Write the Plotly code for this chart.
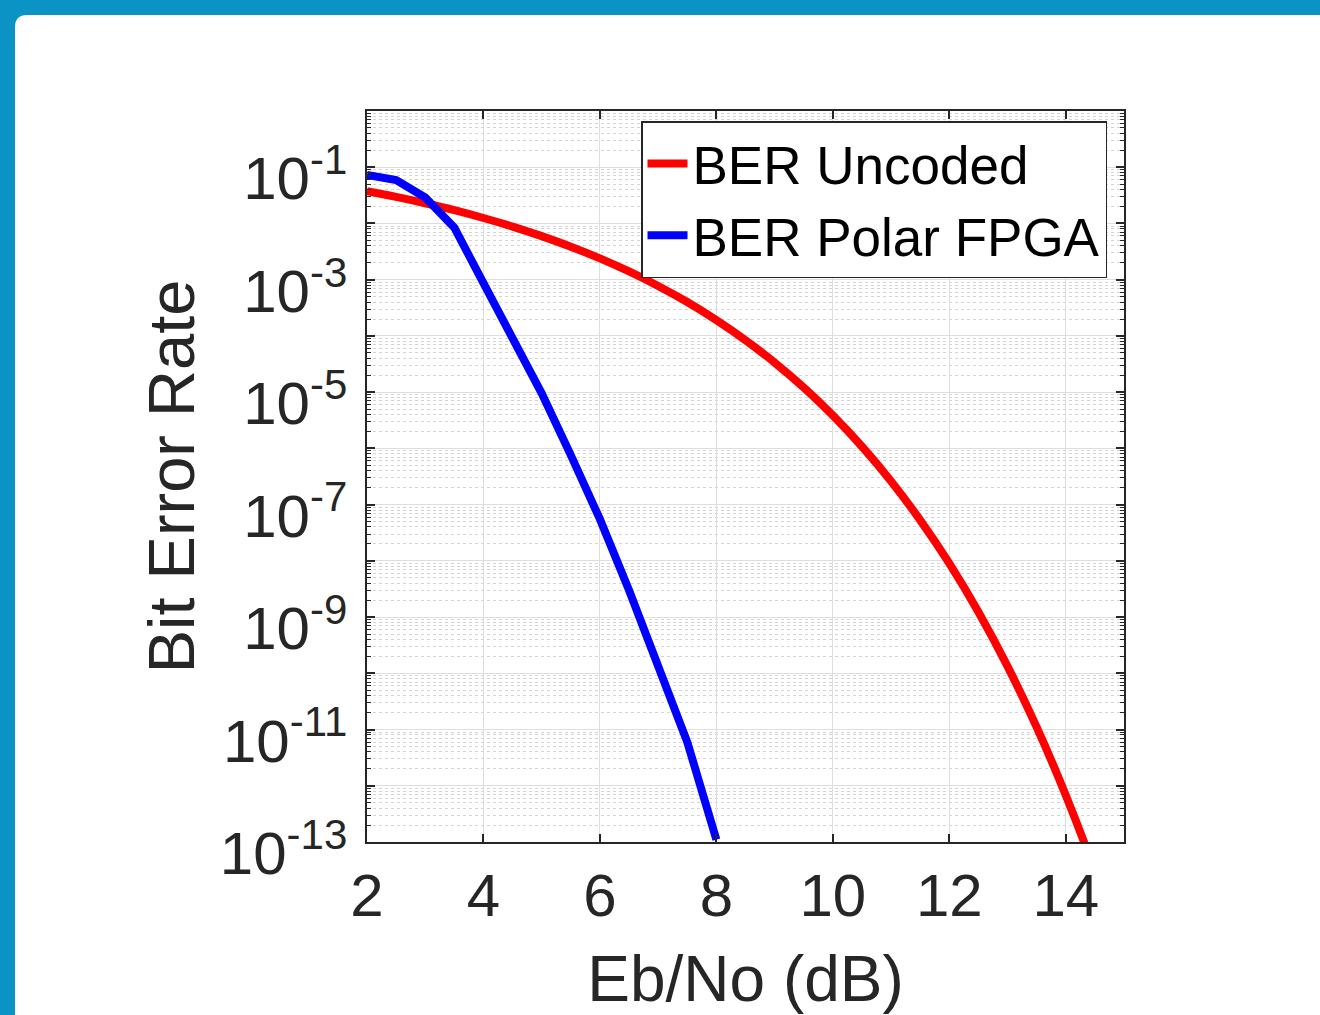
import plotly.graph_objects as go

# ---- data ----
ebno_uncoded = [2, 2.5, 3, 3.5, 4, 4.5, 5, 5.5, 6, 6.5, 7, 7.5, 8, 8.5, 9, 9.5,
                10, 10.5, 11, 11.5, 12, 12.5, 13, 13.5, 14, 14.5, 15]
ber_uncoded = [3.75e-2, 2.97e-2, 2.29e-2, 1.72e-2, 1.25e-2, 8.8e-3, 5.95e-3, 3.86e-3,
               2.39e-3, 1.40e-3, 7.73e-4, 4.00e-4, 1.91e-4, 8.4e-5, 3.36e-5, 1.21e-5,
               3.87e-6, 1.08e-6, 2.61e-7, 5.3e-8, 9.0e-9, 1.23e-9, 1.33e-10, 1.1e-11,
               6.8e-13, 3.0e-14, 9.1e-16]

ebno_polar = [2, 2.5, 3, 3.5, 4, 4.5, 5, 5.5, 6, 6.5, 7, 7.5, 8]
ber_polar = [7.3e-2, 5.9e-2, 2.9e-2, 8.4e-3, 8.7e-4, 9.0e-5, 9.5e-6, 7.6e-7,
             5.5e-8, 3.0e-9, 1.4e-10, 6.0e-12, 1.1e-13]

x_ticks = [2, 4, 6, 8, 10, 12, 14]
y_exponents = list(range(-13, 1))
y_labeled = [-13, -11, -9, -7, -5, -3, -1]

# ---- figure geometry ----
W, H = 1320, 1015
L, R, T, B = 367, 196, 111, 173
pw, ph = W - L - R, H - T - B

FONT = "Liberation Sans, Arial, sans-serif"
AX = "#262626"
BLUE_BG = "#0a93c4"

fig = go.Figure()
fig.add_trace(go.Scatter(x=ebno_uncoded, y=ber_uncoded, mode="lines",
                         name="BER Uncoded", line=dict(color="#ff0000", width=8, shape="spline")))
fig.add_trace(go.Scatter(x=ebno_polar, y=ber_polar, mode="lines",
                         name="BER Polar FPGA", line=dict(color="#0000ff", width=8)))

y_tickvals = [10.0 ** e for e in y_exponents]
y_ticktext = [("10<sup>%d</sup>" % e) if e in y_labeled else " " for e in y_exponents]
y_minor = [k * 10.0 ** e for e in y_exponents[:-1] for k in range(2, 10)]

fig.update_xaxes(range=[2, 15], tickmode="array", tickvals=x_ticks,
                 ticks="inside", ticklen=8, tickwidth=1.5, tickcolor=AX,
                 showline=True, linecolor=AX, linewidth=1.5, mirror="allticks",
                 showgrid=True, gridcolor="#dedede", gridwidth=1, zeroline=False,
                 tickfont=dict(family=FONT, size=60, color=AX),
                 ticklabelstandoff=0,
                 title=dict(text="Eb/No (dB)", font=dict(family=FONT, size=64, color=AX),
                            standoff=32))
fig.update_yaxes(type="log", range=[-13, 0], tickmode="array", tickvals=y_tickvals,
                 ticktext=y_ticktext, ticks="inside", ticklen=8, tickwidth=1.5, tickcolor=AX,
                 showline=True, linecolor=AX, linewidth=1.5, mirror="allticks",
                 showgrid=True, gridcolor="#dedede", gridwidth=1, zeroline=False,
                 tickfont=dict(family=FONT, size=60, color=AX),
                 ticklabelshift=11, ticklabelstandoff=6,
                 minor=dict(tickmode="array", tickvals=y_minor, ticks="inside", ticklen=4,
                            tickwidth=1, tickcolor=AX, showgrid=True, gridcolor="#d4d4d4",
                            griddash="dot", gridwidth=1),
                 title=dict(text="Bit Error Rate", font=dict(family=FONT, size=65, color=AX),
                            standoff=4))

# white rounded card on blue page background
x0 = (15 - L) / pw
x1 = (W + 20 - L) / pw
yt = (H - B - 15) / ph
yb = -(B + 20) / ph
rx, ry = 12 / pw, 12 / ph
card = (f"M {x0},{yb} L {x0},{yt - ry} Q {x0},{yt} {x0 + rx},{yt} "
        f"L {x1},{yt} L {x1},{yb} Z")
fig.add_shape(type="path", path=card, xref="paper", yref="paper",
              fillcolor="white", line=dict(width=0), layer="below")

fig.update_layout(
    width=W, height=H,
    margin=dict(l=L, r=R, t=T, b=B, autoexpand=False),
    paper_bgcolor=BLUE_BG, plot_bgcolor="white",
    showlegend=True,
    legend=dict(x=(1107 - L) / pw, y=(H - B - 121) / ph, xanchor="right", yanchor="top",
                bgcolor="white", bordercolor=AX, borderwidth=1.5,
                font=dict(family=FONT, size=53, color="black"),
                itemwidth=40, tracegroupgap=0),
)

fig.write_html("out.html", config={"displayModeBar": False},
               post_script="document.body.style.margin='0';"
                           "document.body.style.background='%s';" % BLUE_BG)
